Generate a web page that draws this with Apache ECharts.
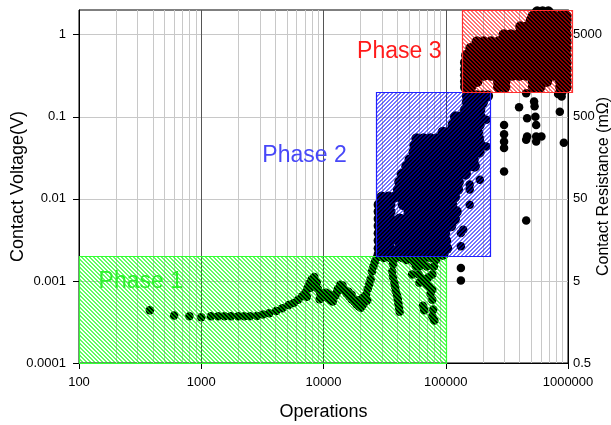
<!DOCTYPE html>
<html><head><meta charset="utf-8">
<script src="https://cdn.jsdelivr.net/npm/echarts@6/dist/echarts.min.js"></script>
<style>html,body{margin:0;padding:0;background:#fff}#c{width:611px;height:425px}</style>
</head><body><div id="c"></div>
<script>
// ---------- axis ticks ----------
const xTickValues = [100, 1000, 10000, 100000, 1000000];
const xTickLabels = ['100', '1000', '10000', '100000', '1000000'];
const minorXTicks = [200,300,400,500,600,700,800,900,
  2000,3000,4000,5000,6000,7000,8000,9000,
  20000,30000,40000,50000,60000,70000,80000,90000,
  200000,300000,400000,500000,600000,700000,800000,900000];
const yTickValues = [0.0001, 0.001, 0.01, 0.1, 1];
const yTickLabels = ['0.0001', '0.001', '0.01', '0.1', '1'];
const rightTickLabels = ['0.5', '5', '50', '500', '5000'];
const X_MIN = 100, X_MAX = 1000000, Y_MIN = 0.0001, Y_MAX = 2;

// ---------- phase regions ----------
const phaseNames = ['Phase 1', 'Phase 2', 'Phase 3'];
const phaseOpsFrom = [100, 27000, 135000];
const phaseOpsTo = [100000, 232000, 1070000];
const phaseVFrom = [0.0001, 0.002, 0.2];
const phaseVTo = [0.002, 0.2, 2];

// ---------- measured points [operations, contact voltage V] ----------
const earlyPoints = [
  [380,0.00044],[600,0.00038],[800,0.00037],[1000,0.00036],[1200,0.00037],[1370,0.00037],[1550,0.00037],
  [1750,0.00037],[2000,0.00037],[2250,0.00037],[2500,0.000372],[2850,0.000375],[3200,0.00039],[3600,0.000405],
  [4100,0.00043],[4600,0.000465],[5200,0.00051],[5700,0.00054],[6200,0.00059],[6700,0.00065],[7100,0.00072],
  [7400,0.00082],[7700,0.00094],[8000,0.00104],[8300,0.001],[8600,0.00088],[9000,0.0008],[9400,0.00072],
  [9800,0.00066],[10300,0.00064],[10800,0.00062],[11400,0.00058],[11900,0.00056],[12500,0.00066],[13100,0.0008],
  [13700,0.0009],[14300,0.00088],[14900,0.00077],[15500,0.0007],[16200,0.00065],[17000,0.0006],[17800,0.00056],
  [18600,0.00052],[19400,0.00049],[20200,0.00047],[20900,0.00062],[21600,0.00058],[22300,0.00068],[23000,0.0008],
  [23700,0.00092],[24300,0.00105],[24900,0.0013],[25600,0.0015],[26300,0.0017],[27200,0.0019],
  [7300,0.00064],[7800,0.00082],[8400,0.00112],[8800,0.00096],[9300,0.0006],[10500,0.00072],[11200,0.00068],
  [12000,0.00064],[12800,0.00072],[13500,0.00078],[16000,0.00074],[17000,0.00068],[19000,0.00058],[21200,0.00052],
  [22800,0.00058],
  [31000,0.0019],[35000,0.0019],[39000,0.0019],[44000,0.0019],[48000,0.0018],[37000,0.0016],[36500,0.0013],
  [37000,0.00112],[38000,0.00095],[38500,0.00085],[39000,0.00075],[40000,0.00066],[40500,0.0006],[41000,0.00053],
  [41500,0.00047],[42000,0.00042],
  [53000,0.0012],[55000,0.0017],[57000,0.0015],[60800,0.0015],[64000,0.0017],[60000,0.0012],[64300,0.00106],
  [60800,0.00095],[68600,0.001],[73300,0.00085],[77600,0.0012],[80000,0.0015],[83000,0.0018],[75000,0.0007],
  [77600,0.00078],[77600,0.00059],[66700,0.00044],[65000,0.0005],[77600,0.00037],[80600,0.00033],[79000,0.00045],
  [70000,0.0009],[72000,0.0011],[68000,0.0019],[75000,0.0019],[58000,0.0019],[70000,0.0015]
];

// phase 2 cloud, one row per voltage level: [volts, [operations...]]
const transitionRows = [
  [0.18,  [150000,165000,180000,200000,220000]],
  [0.15,  [150000,165000,180000,200000]],
  [0.122, [145000,160000,175000,190000]],
  [0.1,   [120000,133000,147000,162000,178000,192000]],
  [0.08,  [115000,128000,142000,157000,172000,188000]],
  [0.065, [95000,107000,120000,134000,149000,165000,182000]],
  [0.054, [58000,66000,75000,85000,96000,108000,122000,137000,152000,168000,186000]],
  [0.045, [56000,63000,71000,80000,90000,101000,113000,126000,141000,157000,174000,192000]],
  [0.037, [55000,62000,70000,79000,89000,100000,112000,125000,140000,156000,172000,188000]],
  [0.03,  [51000,58000,66000,75000,85000,96000,108000,122000,137000,152000,168000]],
  [0.025, [48000,54000,61000,69000,78000,88000,99000,111000,124000,139000,155000,172000]],
  [0.02,  [44000,50000,57000,64000,72000,81000,91000,102000,114000,128000,145000]],
  [0.016, [42000,47000,52000,58000,65000,73000,82000,92000,103000,115000,127000]],
  [0.013, [41000,46000,51000,57000,64000,72000,80000,90000,100000,112000,125000]],
  [0.0105,[30000,34000,38000,43000,48000,54000,60000,67000,75000,84000,94000,105000,118000]],
  [0.0085,[28500,31500,35000,45000,52000,60000,66000,72000,80000,90000,100000,112000]],
  [0.007, [28500,31500,35000,50000,56000,64000,72000,80000,90000,100000,112000,122000]],
  [0.0057,[28500,31500,35000,42000,48000,54000,60000,68000,76000,85000,95000,106000,118000]],
  [0.0047,[28500,31500,35000,40000,45000,50000,56000,64000,72000,80000,90000,100000,110000]],
  [0.0038,[28500,31500,35000,40000,46000,52000,60000,68000,78000,88000,98000]],
  [0.0031,[28500,31500,35000,41000,47000,54000,62000,70000,80000,90000,100000]],
  [0.0025,[28500,31500,35000,42000,48000,55000,63000,72000,82000,92000,102000]],
  [0.0021,[28500,32000,36000,44000,50000,57000,65000,75000,85000,95000]]
];

// phase 3 cloud
const lateRows = [
  [1.9,  [560000,620000,690000]],
  [1.7,  [520000,765000,870000,965000]],
  [1.5,  [500000,560000,630000,700000,780000,870000,965000]],
  [1.25, [410000,460000,520000,590000,670000,765000,870000,965000]],
  [1.0,  [300000,340000,390000,440000,500000,560000,630000,700000,780000,870000,965000]],
  [0.82, [180000,205000,235000,270000,305000,350000,400000,455000,520000,590000,670000,765000,870000,965000]],
  [0.68, [160000,180000,205000,235000,270000,305000,350000,400000,455000,520000,590000,670000,765000,870000,965000]],
  [0.56, [148000,160000,180000,205000,235000,270000,305000,350000,400000,455000,520000,590000,670000,765000,870000,965000]],
  [0.46, [145000,160000,180000,205000,235000,270000,305000,350000,400000,455000,520000,590000,670000,765000,870000,965000]],
  [0.38, [145000,160000,180000,205000,235000,270000,305000,350000,400000,455000,520000,590000,670000,765000,870000,965000]],
  [0.32, [145000,160000,180000,205000,235000,270000,305000,350000,400000,455000,520000,590000,670000,765000,870000,965000]],
  [0.27, [145000,160000,180000,270000,305000,520000,590000,670000,870000,965000]],
  [0.23, [145000,160000,270000,305000,520000,590000,870000,965000]]
];

const strayPoints = [
  [133000,0.00144],[133000,0.00101],[133000,0.00264],[133000,0.00383],[139000,0.00421],[157000,0.0085],
  [157000,0.013],[157000,0.015],[190000,0.0171],[215000,0.0435],[215000,0.0918],
  [455000,0.00546],
  [300000,0.0795],[300000,0.0614],[300000,0.0498],[300000,0.0416],[300000,0.0216],
  [398000,0.131],[528000,0.153],[533000,0.134],[463000,0.096],[541000,0.1],[549000,0.0795],
  [463000,0.0577],[455000,0.0524],[549000,0.0577],[606000,0.0577],[549000,0.05],
  [857000,0.115],[925000,0.0481],[887000,0.177],[455000,0.194],[830000,0.19],[900000,0.2]
];

// ---------- build ----------
function rowsToPoints(rows) {
  const out = [];
  rows.forEach(r => r[1].forEach(x => out.push([x, r[0]])));
  return out;
}
const singlePoints = earlyPoints.concat(strayPoints);
const cloudPoints = rowsToPoints(transitionRows).concat(rowsToPoints(lateRows));

function labelFor(v, vals, labels) {
  const lv = Math.log10(v);
  for (let i = 0; i < vals.length; i++) {
    if (Math.abs(lv - Math.log10(vals[i])) < 1e-6) return labels[i];
  }
  return '';
}

function stripes(r, g, b, a, dir) {
  const n = 8;
  const cv = document.createElement('canvas');
  cv.width = n; cv.height = n;
  const ctx = cv.getContext('2d');
  const img = ctx.createImageData(n, n);
  for (let y = 0; y < n; y++) for (let x = 0; x < n; x++) {
    const k = dir === 'down' ? (((x - y) % 4) + 4) % 4 : (x + y) % 4;
    if (k < 2) {
      const o = (y * n + x) * 4;
      img.data[o] = r; img.data[o + 1] = g; img.data[o + 2] = b; img.data[o + 3] = Math.round(a * 255);
    }
  }
  ctx.putImageData(img, 0, 0);
  return cv;
}
const phasePatterns = [stripes(0, 255, 0, 0.62, 'down'), stripes(0, 0, 255, 0.55, 'up'), stripes(255, 0, 0, 0.55, 'down')];
const phaseBorders = ['#33ff33', '#2020ff', '#ff3030'];
const phaseTextColors = ['#2ef02e', '#4848f8', '#ff1a1a'];
const phaseLabelAt = [[320, 0.00097], [7000, 0.0340], [41700, 0.62]];

const FONT = '"Liberation Sans", Arial, sans-serif';
const chart = echarts.init(document.getElementById('c'), null, { renderer: 'canvas' });

chart.setOption({
  animation: false,
  backgroundColor: '#fff',
  grid: { left: 79, right: 43, top: 10, bottom: 62, show: true, borderColor: '#000', borderWidth: 1,
          backgroundColor: 'transparent', containLabel: false, outerBoundsMode: 'none' },
  xAxis: {
    type: 'log', logBase: 10, min: X_MIN, max: X_MAX,
    name: 'Operations', nameLocation: 'middle', nameGap: 40, nameMoveOverlap: false,
    nameTextStyle: { fontSize: 18, color: '#000', fontFamily: FONT },
    axisLine: { show: true, lineStyle: { color: '#000', width: 1 } },
    axisTick: { show: true, inside: false, length: 6, lineStyle: { color: '#000' } },
    axisLabel: { formatter: v => labelFor(v, xTickValues, xTickLabels), fontSize: 13, color: '#000', margin: 13, fontFamily: FONT },
    splitLine: { show: true, lineStyle: { color: '#555', width: 1 } },
    minorTick: { show: false }, minorSplitLine: { show: false }
  },
  yAxis: [{
    type: 'log', logBase: 10, min: Y_MIN, max: Y_MAX, position: 'left',
    name: 'Contact Voltage(V)', nameLocation: 'middle', nameGap: 52, nameRotate: 90, nameMoveOverlap: false,
    nameTextStyle: { fontSize: 18, color: '#000', fontFamily: FONT },
    axisLine: { show: true, lineStyle: { color: '#000', width: 1 } },
    axisTick: { show: true, inside: false, length: 6, lineStyle: { color: '#000' }, customValues: yTickValues },
    axisLabel: { formatter: v => labelFor(v, yTickValues, yTickLabels), fontSize: 13, color: '#000', margin: 13, fontFamily: FONT },
    splitLine: { show: true, lineStyle: { color: '#c8c8c8', width: 1 } },
    minorTick: { show: false }, minorSplitLine: { show: false }
  }, {
    type: 'log', logBase: 10, min: Y_MIN, max: Y_MAX, position: 'right',
    name: 'Contact Resistance (mΩ)', nameLocation: 'middle', nameGap: 28, nameRotate: 90, nameMoveOverlap: false,
    nameTextStyle: { fontSize: 16, color: '#000', fontFamily: FONT },
    axisLine: { show: true, lineStyle: { color: '#000', width: 1 } },
    axisTick: { show: false },
    axisLabel: { formatter: v => labelFor(v, yTickValues, rightTickLabels), fontSize: 13, color: '#000', margin: 5, fontFamily: FONT },
    splitLine: { show: false }
  }],
  series: [{
    type: 'custom', name: 'minorGrid', silent: true, z: 1, clip: false,
    data: minorXTicks.map(v => [v, Y_MIN]),
    renderItem: (params, api) => {
      const v = api.value(0);
      const p0 = api.coord([v, Y_MIN]);
      const p1 = api.coord([v, Y_MAX]);
      const x = Math.round(p0[0]) + 0.5;
      return { type: 'line', shape: { x1: x, y1: p0[1], x2: x, y2: p1[1] }, style: { stroke: '#c8c8c8', lineWidth: 1 } };
    }
  }, {
    type: 'scatter', name: 'data', z: 3, clip: false,
    data: singlePoints, symbol: 'circle', symbolSize: 8.5,
    itemStyle: { color: '#000', opacity: 1 }, emphasis: { disabled: true }
  }, {
    type: 'scatter', name: 'dense', z: 3, clip: false,
    data: cloudPoints, symbol: 'circle', symbolSize: 11,
    itemStyle: { color: '#000', opacity: 1 }, emphasis: { disabled: true }
  }, {
    type: 'custom', name: 'phases', silent: true, z: 5, clip: false,
    data: phaseNames.map((n, i) => [phaseOpsFrom[i], phaseVFrom[i], phaseOpsTo[i], phaseVTo[i]]),
    encode: { x: [0, 2], y: [1, 3] },
    renderItem: (params, api) => {
      const i = params.dataIndex;
      const a = api.coord([api.value(0), api.value(1)]);
      const b = api.coord([api.value(2), api.value(3)]);
      const t = api.coord(phaseLabelAt[i]);
      const x0 = Math.round(Math.min(a[0], b[0])) + 0.5, y0 = Math.round(Math.min(a[1], b[1])) + 0.5;
      const x1 = Math.round(Math.max(a[0], b[0])) + 0.5, y1 = Math.round(Math.max(a[1], b[1])) + 0.5;
      return { type: 'group', children: [
        { type: 'rect', shape: { x: x0, y: y0, width: x1 - x0, height: y1 - y0 },
          style: { fill: { image: phasePatterns[i], repeat: 'repeat' }, stroke: phaseBorders[i], lineWidth: 1.2 } },
        { type: 'text', x: t[0], y: t[1],
          style: { text: phaseNames[i], fill: phaseTextColors[i], fontSize: 23, fontFamily: FONT,
                   align: 'center', verticalAlign: 'middle' } }
      ] };
    }
  }]
});
</script></body></html>
